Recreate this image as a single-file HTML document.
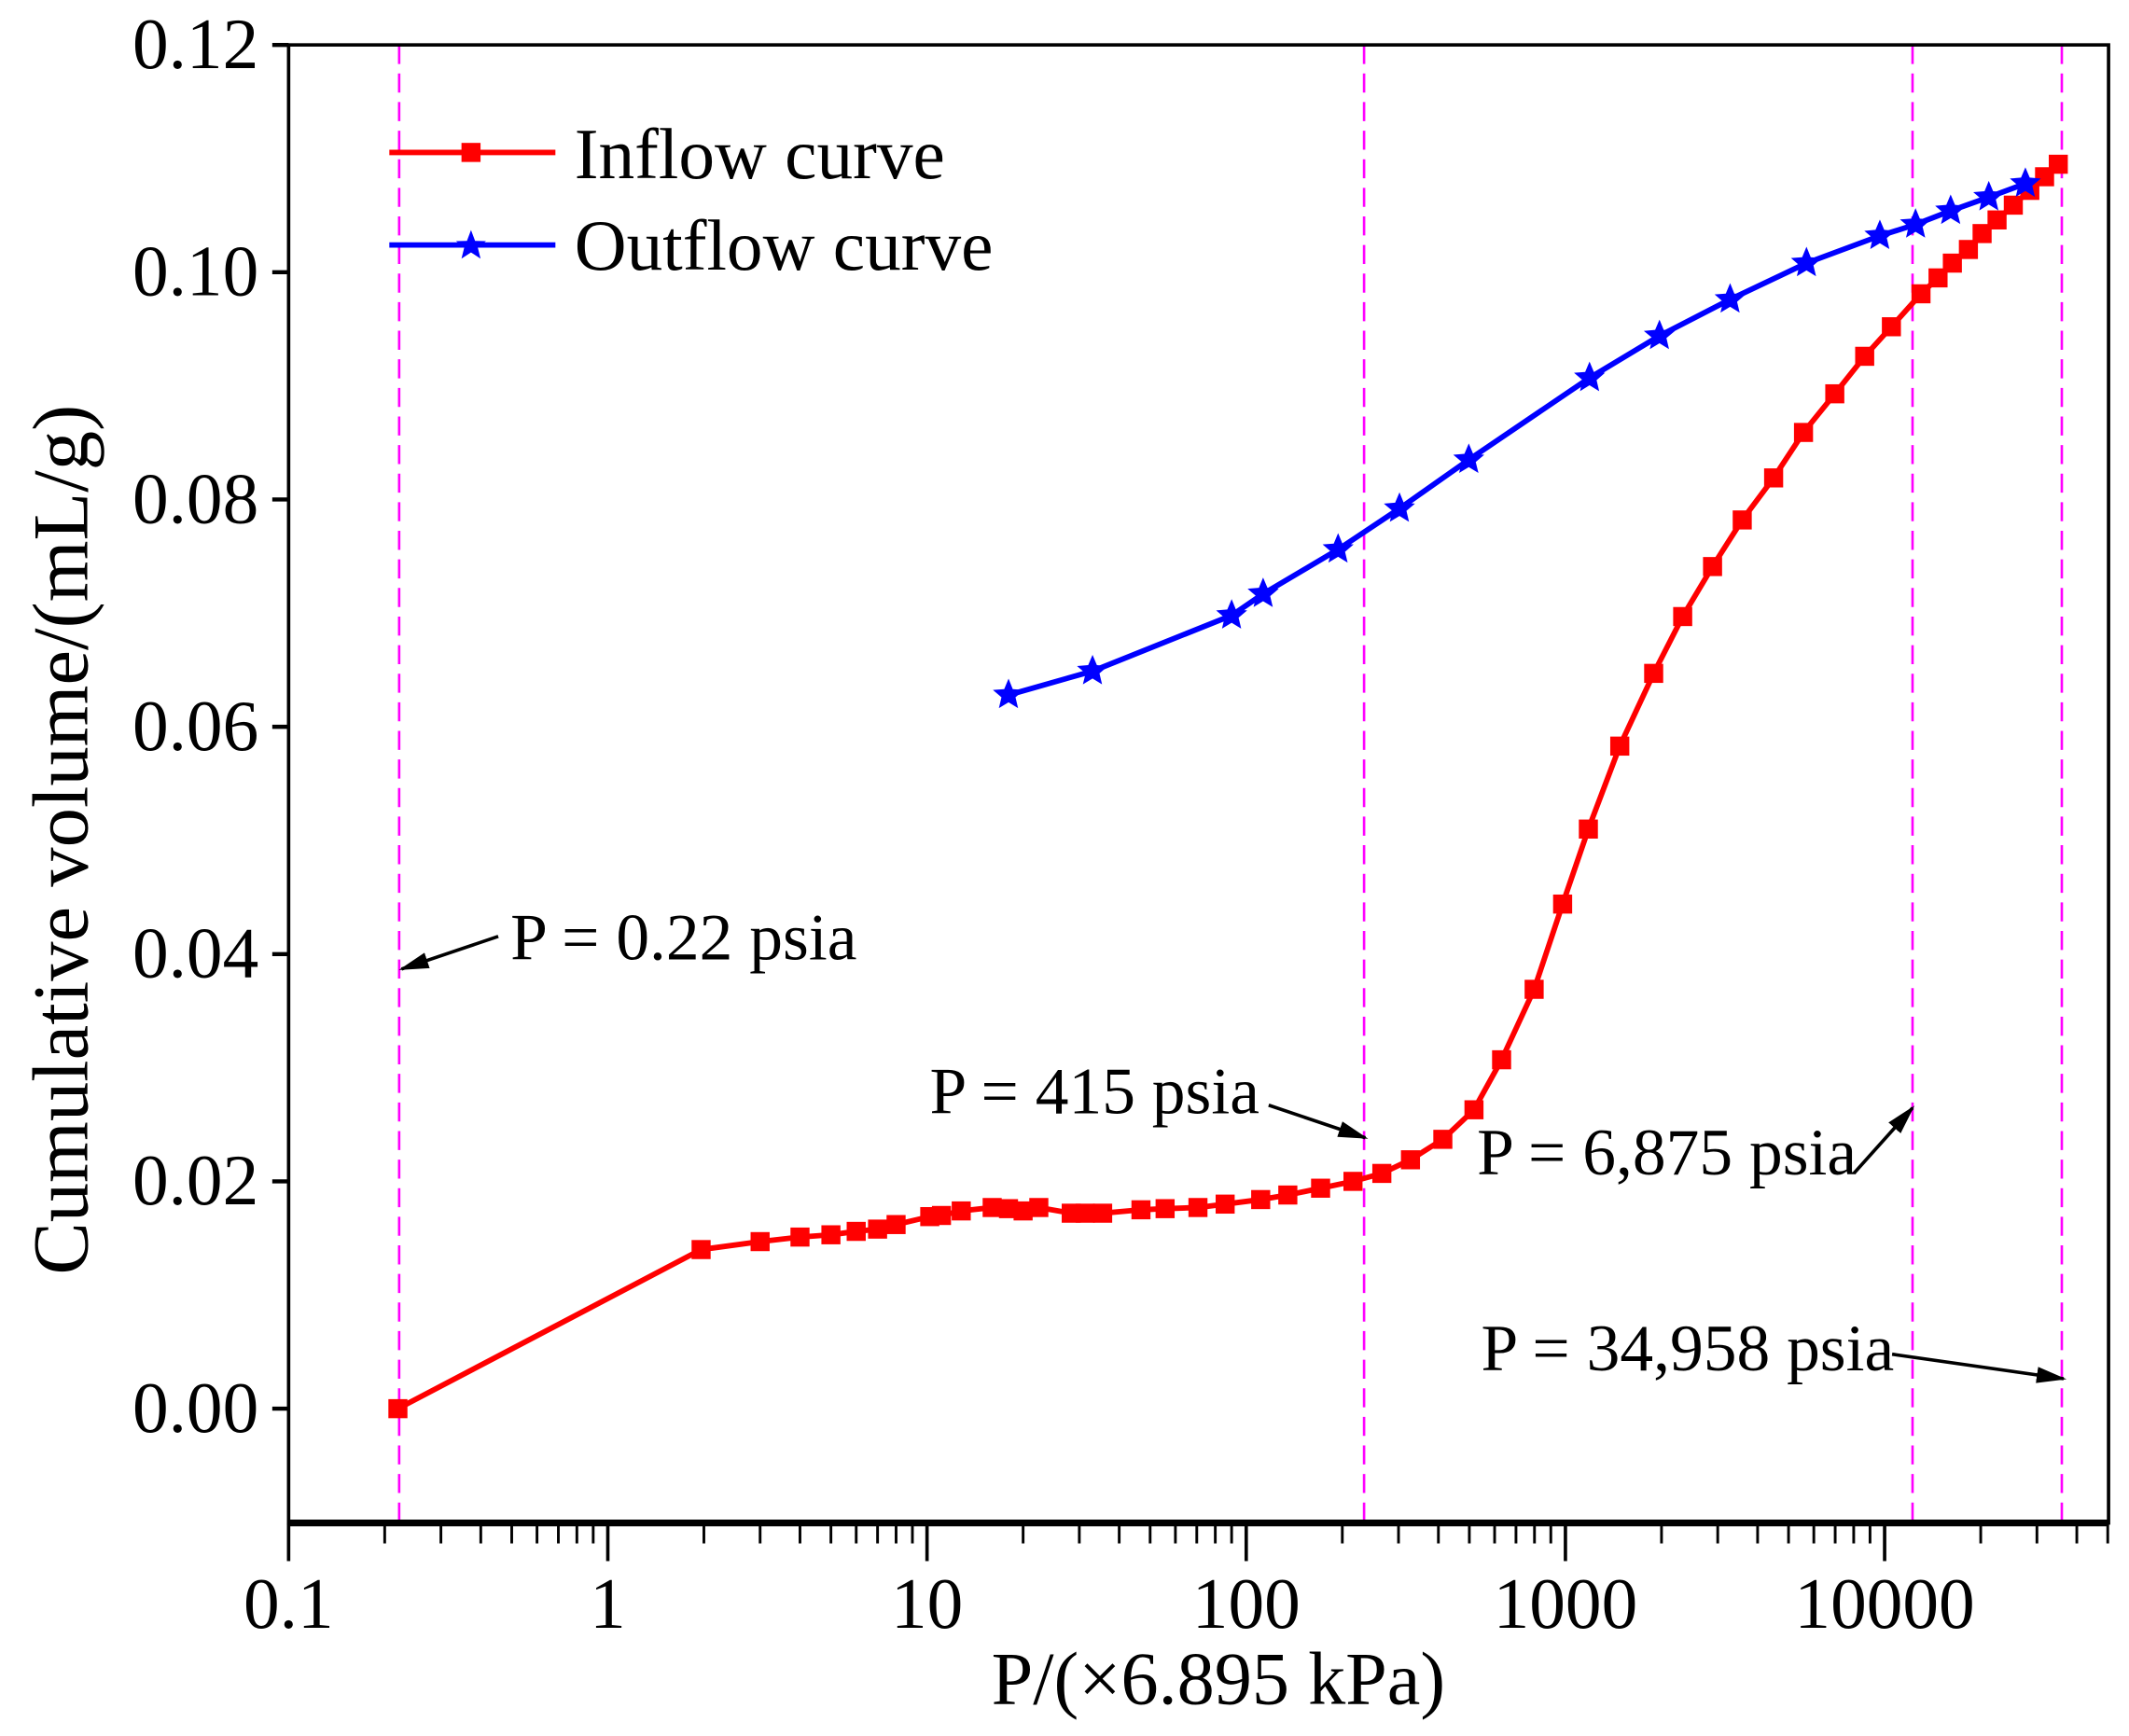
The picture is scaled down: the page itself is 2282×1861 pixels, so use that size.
<!DOCTYPE html>
<html><head><meta charset="utf-8"><style>
html,body{margin:0;padding:0;background:#fff}
svg{display:block}
text{font-family:"Liberation Serif",serif;fill:#000}
</style></head><body>
<svg id="chart" width="2282" height="1861" viewBox="0 0 1564 1275.5" xmlns="http://www.w3.org/2000/svg">
<defs>
<marker id="ah" viewBox="0 0 10 10" refX="9" refY="5" markerWidth="22" markerHeight="12" orient="auto" markerUnits="userSpaceOnUse" preserveAspectRatio="none"><path d="M0,0 L10,5 L0,10 z" fill="#000"/></marker>
</defs>
<g id="grid"></g>
<g id="series"></g>
<g id="axes"></g>
<g id="annot"></g>
<g id="legend">
  <line x1="286" y1="112" x2="408" y2="112" stroke="#f00" stroke-width="4"/>
  <rect x="339" y="105" width="14" height="14" fill="#f00"/>
  <text x="422" y="131" font-size="53">Inflow curve</text>
  <line x1="286" y1="180" x2="408" y2="180" stroke="#00f" stroke-width="4"/>
  <path d="M346,169 L349,177 L357,177.2 L351,182 L353,190 L346,185.5 L339,190 L341,182 L335,177.2 L343,177 Z" fill="#00f"/>
  <text x="422" y="198" font-size="53">Outflow curve</text>
</g>
<text x="895" y="1252" font-size="55" text-anchor="middle">P/(×6.895 kPa)</text>
<text transform="translate(64,617) rotate(-90)" font-size="58" text-anchor="middle">Cumulative volume/(mL/g)</text>
</svg>
<script>
const inflowP = [0.22,1.96,3,4,5,6,7,8,10.2,11.1,12.8,16,18,20,22.4,28.3,31.3,35.5,46.8,55.7,70.6,85.9,111,135,171,216,266,327,413,517,631,798,980,1180,1480,1890,2330,2890,3580,4490,5570,6980,8660,10500,13000,14700,16300,18300,20200,22500,25300,28500,31700,35000];
const inflowV = [0,0.0140,0.0147,0.0151,0.0153,0.0156,0.0158,0.0162,0.0169,0.0170,0.0174,0.0177,0.0176,0.0174,0.0177,0.0172,0.0172,0.0172,0.0175,0.0176,0.0177,0.0180,0.0184,0.0188,0.0194,0.0200,0.0207,0.0219,0.0237,0.0263,0.0307,0.0369,0.0444,0.0510,0.0583,0.0647,0.0697,0.0741,0.0782,0.0819,0.0859,0.0893,0.0926,0.0952,0.0981,0.0995,0.1008,0.1020,0.1034,0.1046,0.1059,0.1072,0.1084,0.1095];
const outflowP = [18,33,90,113,194,302,498,1190,1970,3280,5690,9660,12500,16100,21200,27600];
const outflowV = [0.0628,0.0649,0.0698,0.0717,0.0756,0.0792,0.0835,0.0907,0.0944,0.0976,0.1008,0.1032,0.1042,0.1054,0.1066,0.1078];
const refLinesP = [0.222,234,12230,35900];
const yTicks = [0,0.02,0.04,0.06,0.08,0.10,0.12];
const yTickLabels = ["0.00","0.02","0.04","0.06","0.08","0.10","0.12"];
const xTicks = [0.1,1,10,100,1000,10000];
const xTickLabels = ["0.1","1","10","100","1000","10000"];

const L=212,R=1549,T=33,B=1119;
const X=p=>L+(Math.log10(p)+1)*234.5;
const Y=v=>1035-v*8350;
const NS="http://www.w3.org/2000/svg";
function mk(tag,attrs,parent){const e=document.createElementNS(NS,tag);for(const k in attrs)e.setAttribute(k,attrs[k]);parent.appendChild(e);return e;}
const grid=document.getElementById('grid'),ser=document.getElementById('series'),ax=document.getElementById('axes'),an=document.getElementById('annot');

refLinesP.forEach((p,i)=>{
  const l=mk('line',{x1:X(p),x2:X(p),y1:T,y2:B,stroke:'#f0f','stroke-width':1.8,'stroke-dasharray':'14,7'},grid);
  
  
});

const ip=mk('polyline',{points:inflowP.map((p,i)=>X(p)+','+Y(inflowV[i])).join(' '),fill:'none',stroke:'#f00','stroke-width':4},ser);


inflowP.forEach((p,i)=>{
  const r=mk('rect',{x:X(p)-7,y:Y(inflowV[i])-7,width:14,height:14,fill:'#f00'},ser);
  
  
});
const op=mk('polyline',{points:outflowP.map((p,i)=>X(p)+','+Y(outflowV[i])).join(' '),fill:'none',stroke:'#00f','stroke-width':4},ser);


function star(cx,cy,r){let s='';for(let k=0;k<10;k++){const a=-Math.PI/2+k*Math.PI/5,rr=k%2?r*0.45:r;s+=(k?'L':'M')+(cx+rr*Math.cos(a)).toFixed(1)+','+(cy+rr*Math.sin(a)).toFixed(1);}return s+'Z';}
outflowP.forEach((p,i)=>{
  const s=mk('path',{d:star(X(p),Y(outflowV[i]),12),fill:'#00f'},ser);
  
  
});

mk('rect',{x:L,y:T,width:R-L,height:B-T,fill:'none',stroke:'#000','stroke-width':2.5},ax);
mk('line',{x1:L,x2:R,y1:B,y2:B,stroke:'#000','stroke-width':5},ax);
yTicks.forEach((v,i)=>{
  mk('line',{x1:L-12,x2:L,y1:Y(v),y2:Y(v),stroke:'#000','stroke-width':3},ax);
  const t=mk('text',{x:190,y:Y(v)+17,'font-size':53,'text-anchor':'end'},ax);
  t.textContent=yTickLabels[i];
  
  
});
xTicks.forEach((p,i)=>{
  mk('line',{x1:X(p),x2:X(p),y1:B,y2:B+28,stroke:'#000','stroke-width':2.5},ax);
  const t=mk('text',{x:X(p),y:1196,'font-size':53,'text-anchor':'middle'},ax);
  t.textContent=xTickLabels[i];
  
  
  for(let m=2;m<=9;m++){const q=p*m;if(X(q)<=R)mk('line',{x1:X(q),x2:X(q),y1:B,y2:B+15,stroke:'#000','stroke-width':2},ax);}
});

const notes=[["P = 0.22 psia",375,705,366,688,295,712],["P = 415 psia",683,818,932,812,1003,836],["P = 6,875 psia",1085,863,1362,862,1405,814],["P = 34,958 psia",1088,1007,1390,995,1516,1013]];
notes.forEach((n,i)=>{
  const t=mk('text',{x:n[1],y:n[2],'font-size':49},an);
  t.textContent=n[0];
  
  
  mk('line',{x1:n[3],y1:n[4],x2:n[5],y2:n[6],stroke:'#000','stroke-width':2.5,'marker-end':'url(#ah)'},an);
});
</script>
</body></html>
